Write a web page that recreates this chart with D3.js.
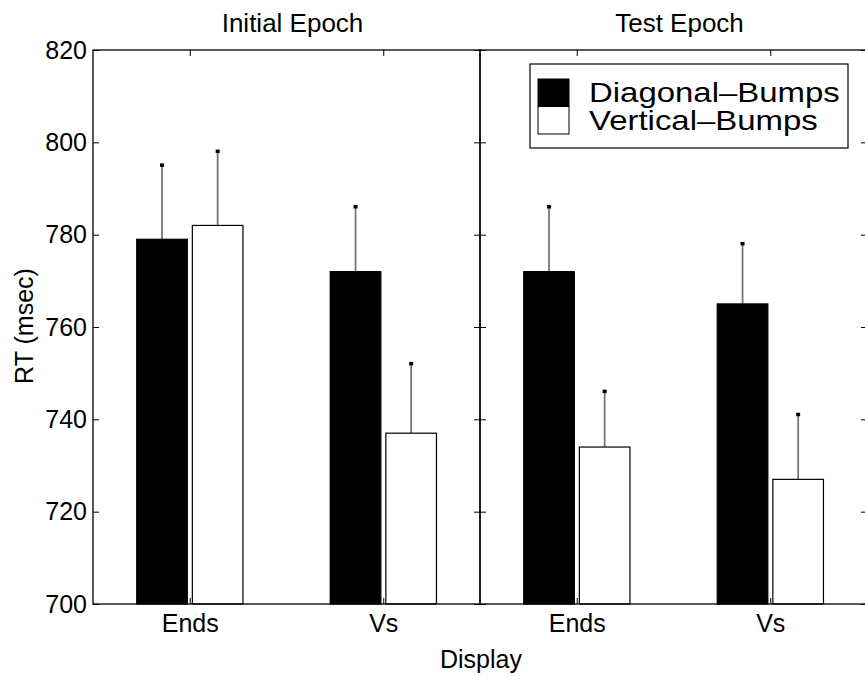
<!DOCTYPE html>
<html><head><meta charset="utf-8">
<script src="https://cdn.jsdelivr.net/npm/d3@7/dist/d3.min.js"></script>
<style>body{margin:0;background:#fff}svg{display:block}text{font-family:"Liberation Sans",Arial,sans-serif;fill:#000}</style>
</head><body>
<script>
const panels = ["Initial Epoch", "Test Epoch"];
const categories = ["Ends", "Vs"];
const series = ["Diagonal-Bumps", "Vertical-Bumps"];
const seriesLabels = ["Diagonal\u2013Bumps", "Vertical\u2013Bumps"];
const seriesColors = ["#000", "#fff"];
// values[panel][category]
const diagonalValues = [[779, 772], [772, 765]];
const diagonalErrTops = [[795, 786], [786, 778]];
const verticalValues = [[782, 737], [734, 727]];
const verticalErrTops = [[798, 752], [746, 741]];
const yTicks = [700, 720, 740, 760, 780, 800, 820];

(function () {
const W = 865, H = 677;
const svg = d3.select("body").append("svg").attr("width", W).attr("height", H);

const mLeft = 93, mTop = 50, mBottom = 604, panelW = 387;
const y = d3.scaleLinear().domain([700, 820]).range([mBottom, mTop]);
const inner = d3.scaleBand().domain(series).range([-0.274, 0.275]).paddingInner(0.09);

panels.forEach((pName, pi) => {
  const x0 = mLeft + pi * panelW;
  const x = d3.scaleLinear().domain([0.5, 2.5]).range([x0, x0 + panelW]);
  const g = svg.append("g");
  const rows = [];
  categories.forEach((c, ci) => {
    rows.push({s: 0, cx: ci + 1, v: diagonalValues[pi][ci], e: diagonalErrTops[pi][ci]});
    rows.push({s: 1, cx: ci + 1, v: verticalValues[pi][ci], e: verticalErrTops[pi][ci]});
  });
  const cxOf = d => x(d.cx + inner(series[d.s]) + inner.bandwidth() / 2);
  g.selectAll(".err").data(rows).enter().append("line")
    .attr("x1", cxOf).attr("x2", cxOf)
    .attr("y1", d => y(d.v)).attr("y2", d => y(d.e))
    .attr("stroke", "#777").attr("stroke-width", 1.8);
  g.selectAll(".cap").data(rows).enter().append("rect")
    .attr("x", d => cxOf(d) - 2)
    .attr("y", d => y(d.e) - 2).attr("width", 4).attr("height", 3.5).attr("fill", "#000");
  g.selectAll(".bar").data(rows).enter().append("rect")
    .attr("x", d => x(d.cx + inner(series[d.s])))
    .attr("width", d => x(d.cx + inner(series[d.s]) + inner.bandwidth()) - x(d.cx + inner(series[d.s])))
    .attr("y", d => y(d.v)).attr("height", d => y(700) - y(d.v))
    .attr("fill", d => seriesColors[d.s]).attr("stroke", "#000").attr("stroke-width", 1.2);
  g.append("rect").attr("x", x0).attr("y", mTop).attr("width", panelW).attr("height", mBottom - mTop)
    .attr("fill", "none").attr("stroke", "#000").attr("stroke-width", 1.3);
  const yl = g.append("g").attr("transform", `translate(${x0},0)`)
    .call(d3.axisLeft(y).tickValues(yTicks).tickSizeInner(-6).tickSizeOuter(0).tickFormat(pi === 0 ? d3.format("d") : () => ""));
  yl.select(".domain").remove();
  yl.selectAll("text").attr("x", -6).style("font-size", "25px").style("font-family", "Liberation Sans, Arial, sans-serif");
  const yr = g.append("g").attr("transform", `translate(${x0 + panelW},0)`)
    .call(d3.axisRight(y).tickValues(yTicks).tickSizeInner(-6).tickSizeOuter(0).tickFormat(() => ""));
  yr.select(".domain").remove();
  const xb = g.append("g").attr("transform", `translate(0,${mBottom})`)
    .call(d3.axisBottom(x).tickValues([1, 2]).tickSizeInner(-6).tickSizeOuter(0).tickFormat((d, i) => categories[i]));
  xb.select(".domain").remove();
  xb.selectAll("text").attr("y", 10).style("font-size", "25px").style("font-family", "Liberation Sans, Arial, sans-serif");
  const xt = g.append("g").attr("transform", `translate(0,${mTop})`)
    .call(d3.axisTop(x).tickValues([1, 2]).tickSizeInner(-6).tickSizeOuter(0).tickFormat(() => ""));
  xt.select(".domain").remove();
  svg.selectAll(".tick line").attr("stroke", "#000");
  svg.append("text").attr("x", x0 + panelW / 2 + 6).attr("y", 32).attr("text-anchor", "middle")
    .style("font-size", "26px").text(pName);
});

svg.append("text").attr("x", 481).attr("y", 668).attr("text-anchor", "middle").style("font-size", "25px").text("Display");
svg.append("text").attr("transform", "translate(33,326) rotate(-90)").attr("text-anchor", "middle")
  .style("font-size", "25px").text("RT (msec)");

const lg = svg.append("g");
lg.append("rect").attr("x", 530).attr("y", 64).attr("width", 318).attr("height", 84)
  .attr("fill", "#fff").attr("stroke", "#000").attr("stroke-width", 1.2);
seriesLabels.forEach((s, i) => {
  lg.append("rect").attr("x", 538).attr("y", 79 + i * 27.5).attr("width", 31).attr("height", 27.5)
    .attr("fill", seriesColors[i]).attr("stroke", "#000").attr("stroke-width", 1);
  lg.append("text").attr("transform", `translate(589,${102 + i * 28}) scale(1.22,1)`)
    .style("font-size", "27px").text(s);
});
})();
</script>
</body></html>
